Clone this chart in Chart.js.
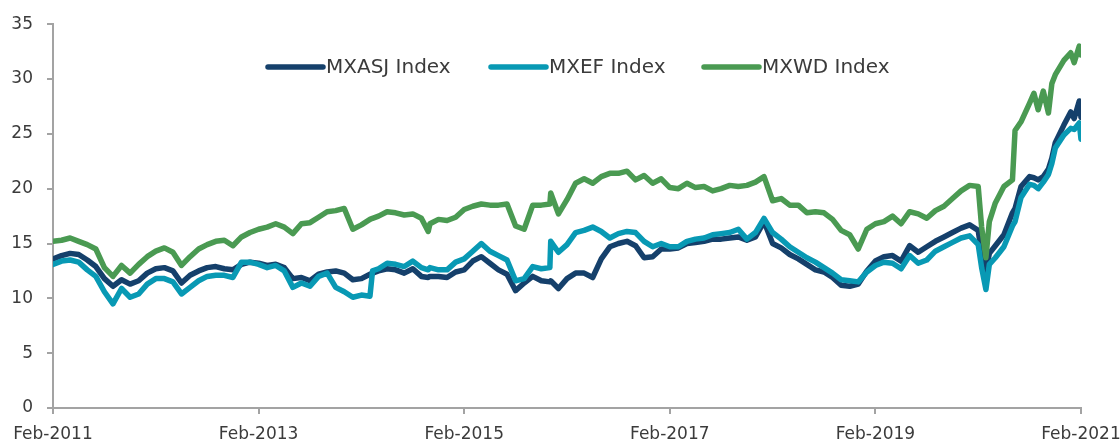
<!DOCTYPE html>
<html>
<head>
<meta charset="utf-8">
<title>MXASJ / MXEF / MXWD</title>
<script src="https://cdn.jsdelivr.net/npm/chart.js@4.4.1/dist/chart.umd.min.js"></script>
<style>
  html, body { margin: 0; padding: 0; background: #fff; }
  canvas { display: block; }
</style>
</head>
<body>
<canvas id="indexChart" width="1120" height="443"></canvas>
<script>
// months since Feb-2011 (shared x values for every series)
const months = [
    0, 1, 2, 3, 4, 5, 6, 7, 8, 9,
    10, 11, 12, 13, 14, 15, 16, 17, 18, 19,
    20, 21, 22, 23, 24, 25, 26, 27, 28, 29,
    30, 31, 32, 33, 34, 35, 36, 37, 37.3, 38, 39,
    40, 41, 42, 43, 43.8, 44, 45, 46, 47, 48, 49,
    50, 51, 52, 53, 54, 55, 56, 57, 58, 58.1, 59,
    60, 61, 62, 63, 64, 65, 66, 67, 68, 69,
    70, 71, 72, 73, 74, 75, 76, 77, 78, 79,
    80, 81, 82, 83, 84, 85, 86, 87, 88, 89,
    90, 91, 92, 93, 94, 95, 96, 97, 98, 99,
    100, 101, 102, 103, 104, 105, 106, 107, 108, 108.4, 108.9, 109.3,
    110, 111, 112, 112.3, 113, 114, 114.5, 115, 115.6, 116.2, 116.6, 117, 118, 118.8, 119.2, 119.8, 120
];

const mxasj = [
    13.6, 13.9, 14.1, 14.0, 13.5, 12.9, 11.8, 11.1, 11.7, 11.3,
    11.6, 12.3, 12.7, 12.8, 12.5, 11.4, 12.1, 12.5, 12.8, 12.9,
    12.7, 12.6, 13.1, 13.3, 13.2, 13.0, 13.1, 12.8, 11.8, 11.9,
    11.6, 12.2, 12.4, 12.5, 12.3, 11.7, 11.8, 12.2, 12.3, 12.5, 12.7,
    12.6, 12.3, 12.7, 12.0, 11.9, 12.0, 12.0, 11.9, 12.4, 12.6, 13.4,
    13.8, 13.2, 12.6, 12.2, 10.7, 11.4, 12.0, 11.6, 11.5, 11.6, 10.9,
    11.8, 12.3, 12.3, 11.9, 13.6, 14.7, 15.0, 15.2, 14.8, 13.7,
    13.8, 14.5, 14.5, 14.6, 15.0, 15.1, 15.2, 15.4, 15.4, 15.5,
    15.6, 15.3, 15.6, 17.0, 15.0, 14.6, 14.0, 13.6, 13.1, 12.6,
    12.4, 11.9, 11.2, 11.1, 11.3, 12.5, 13.4, 13.8, 13.9, 13.4,
    14.8, 14.2, 14.7, 15.2, 15.6, 16.0, 16.4, 16.7, 16.2, 14.0, 12.5, 14.1,
    14.8, 15.8, 17.8, 18.2, 20.2, 21.1, 21.0, 20.8, 21.1, 21.8, 22.8, 24.2, 25.8, 27.0, 26.4, 28.0, 26.5
];

const mxef = [
    13.1, 13.4, 13.5, 13.3, 12.6, 12.0, 10.6, 9.5, 10.9, 10.1,
    10.4, 11.3, 11.8, 11.8, 11.5, 10.4, 11.0, 11.6, 12.0, 12.1,
    12.1, 11.9, 13.3, 13.3, 13.1, 12.8, 13.0, 12.5, 11.0, 11.4,
    11.1, 12.0, 12.3, 11.0, 10.6, 10.1, 10.3, 10.2, 12.5, 12.7, 13.2,
    13.1, 12.9, 13.4, 12.8, 12.6, 12.8, 12.6, 12.6, 13.3, 13.6, 14.3,
    15.0, 14.3, 13.9, 13.5, 11.6, 11.8, 12.9, 12.7, 12.8, 15.2, 14.2,
    14.9, 16.0, 16.2, 16.5, 16.1, 15.5, 15.9, 16.1, 16.0, 15.2,
    14.7, 15.0, 14.7, 14.7, 15.2, 15.4, 15.5, 15.8, 15.9, 16.0,
    16.3, 15.4, 16.0, 17.3, 16.0, 15.4, 14.7, 14.2, 13.7, 13.3,
    12.8, 12.3, 11.7, 11.6, 11.5, 12.4, 13.0, 13.3, 13.2, 12.7,
    13.9, 13.2, 13.5, 14.3, 14.7, 15.1, 15.5, 15.7, 14.9, 12.8, 10.8, 13.1,
    13.7, 14.7, 16.6, 17.0, 19.2, 20.4, 20.3, 20.0, 20.6, 21.3, 22.3, 23.7, 24.9, 25.5, 25.4, 26.0, 24.5
];

const mxwd = [
    15.2, 15.3, 15.5, 15.2, 14.9, 14.5, 12.8, 12.0, 13.0, 12.3,
    13.1, 13.8, 14.3, 14.6, 14.2, 13.0, 13.8, 14.5, 14.9, 15.2,
    15.3, 14.8, 15.6, 16.0, 16.3, 16.5, 16.8, 16.5, 15.9, 16.8,
    16.9, 17.4, 17.9, 18.0, 18.2, 16.3, 16.7, 17.2, 17.3, 17.5, 17.9,
    17.8, 17.6, 17.7, 17.3, 16.1, 16.8, 17.2, 17.1, 17.4, 18.1, 18.4,
    18.6, 18.5, 18.5, 18.6, 16.6, 16.3, 18.5, 18.5, 18.6, 19.6, 17.7,
    19.0, 20.5, 20.9, 20.5, 21.1, 21.4, 21.4, 21.6, 20.8, 21.2,
    20.5, 20.9, 20.1, 20.0, 20.5, 20.1, 20.2, 19.8, 20.0, 20.3,
    20.2, 20.3, 20.6, 21.1, 18.9, 19.1, 18.5, 18.5, 17.8, 17.9,
    17.8, 17.2, 16.2, 15.8, 14.5, 16.3, 16.8, 17.0, 17.5, 16.8,
    17.9, 17.7, 17.3, 18.0, 18.4, 19.1, 19.8, 20.3, 20.2, 16.5, 13.7, 17.0,
    18.7, 20.2, 20.8, 25.3, 26.1, 27.8, 28.7, 27.2, 28.9, 26.9, 29.6, 30.4, 31.7, 32.4, 31.5, 33.0, 32.2
];

const seriesNames = ['MXASJ Index', 'MXEF Index', 'MXWD Index'];
const tickLabels = ['Feb-2011', 'Feb-2013', 'Feb-2015', 'Feb-2017', 'Feb-2019', 'Feb-2021'];

const colors = ['#15406b', '#0899b4', '#4a9a52'];
const axisColor = '#a3a3a3';
const textColor = '#3b3b3b';

Chart.defaults.font.family = '"DejaVu Sans", sans-serif';
Chart.defaults.color = textColor;

function toPoints(values) {
    return values.map((v, i) => ({ x: months[i], y: v }));
}

// legend drawn inside the plot, like the original
const insideLegend = {
    id: 'insideLegend',
    afterDraw(chart) {
        const ctx = chart.ctx;
        const starts = [268, 491, 704];
        const y = 67;
        ctx.save();
        ctx.font = '20px "DejaVu Sans", sans-serif';
        ctx.textBaseline = 'middle';
        ctx.fillStyle = textColor;
        seriesNames.forEach((name, i) => {
            ctx.strokeStyle = colors[i];
            ctx.lineWidth = 5.5;
            ctx.lineCap = 'round';
            ctx.beginPath();
            ctx.moveTo(starts[i], y);
            ctx.lineTo(starts[i] + 55, y);
            ctx.stroke();
            ctx.fillText(name, starts[i] + 58, y + 1);
        });
        ctx.restore();
    }
};

const ctx = document.getElementById('indexChart').getContext('2d');
new Chart(ctx, {
    type: 'line',
    data: {
        datasets: [
            { label: seriesNames[0], data: toPoints(mxasj), borderColor: colors[0], order: 3 },
            { label: seriesNames[1], data: toPoints(mxef), borderColor: colors[1], order: 2 },
            { label: seriesNames[2], data: toPoints(mxwd), borderColor: colors[2], order: 1 }
        ]
    },
    options: {
        responsive: false,
        animation: false,
        devicePixelRatio: 1,
        layout: { padding: { top: 22, left: 0, right: 0, bottom: 0 } },
        elements: {
            point: { radius: 0 },
            line: { borderWidth: 5.5, tension: 0, borderJoinStyle: 'round', borderCapStyle: 'round', fill: false }
        },
        plugins: {
            legend: { display: false },
            tooltip: { enabled: false }
        },
        scales: {
            x: {
                type: 'linear',
                min: 0,
                max: 120,
                ticks: {
                    stepSize: 24,
                    padding: 10,
                    maxRotation: 0,
                    font: { size: 17 },
                    callback: (v) => tickLabels[v / 24]
                },
                grid: { drawOnChartArea: false, tickLength: 6, color: axisColor, lineWidth: 2 },
                border: { color: axisColor, width: 2 },
                afterFit(scale) {
                    scale.height = 35;
                    scale.paddingRight = 39;
                }
            },
            y: {
                min: 0,
                max: 35,
                ticks: { stepSize: 5, padding: 14, font: { size: 17 } },
                grid: { drawOnChartArea: false, tickLength: 6, color: axisColor, lineWidth: 2 },
                border: { color: axisColor, width: 2 },
                afterFit(scale) { scale.width = 53; }
            }
        }
    },
    plugins: [insideLegend]
});
</script>
</body>
</html>
